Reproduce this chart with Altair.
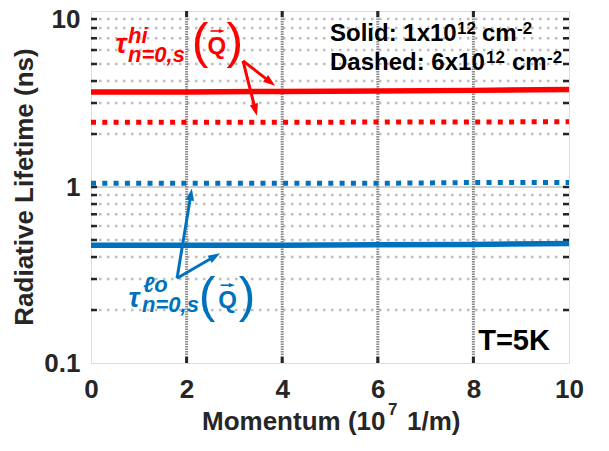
import math
import altair as alt
import pandas as pd

# ---------------- data ----------------
momentum = [0, 2, 4, 6, 8, 10]
red_solid = [3.46, 3.47, 3.49, 3.51, 3.54, 3.58]
red_dotted = [2.33, 2.33, 2.33, 2.34, 2.34, 2.35]
blue_dotted = [1.05, 1.05, 1.05, 1.05, 1.06, 1.06]
blue_solid = [0.466, 0.466, 0.467, 0.469, 0.472, 0.477]

x_ticks = [0, 2, 4, 6, 8, 10]
y_ticks = [0.1, 1, 10]
y_minor = [0.2, 0.3, 0.4, 0.5, 0.6, 0.7, 0.8, 0.9, 2, 3, 4, 5, 6, 7, 8, 9]
y_major_grid = [1]
x_grid = [2, 4, 6, 8]
y_tick_marks = [0.2, 0.3, 0.4, 0.5, 0.6, 0.7, 0.8, 0.9, 1, 2, 3, 4, 5, 6, 7, 8, 9]

# pointer arrows: (start, tips) in data units
red_arrow_start = (3.18, 5.21)
red_arrow_tips = [(3.85, 3.76), (3.47, 2.54)]
blue_arrow_start = (1.80, 0.303)
blue_arrow_tips = [(2.11, 0.98), (2.70, 0.42)]
# vector arrows over Q: (start, tip) in data units
red_vec = ((2.50, 7.70), (2.80, 7.70))
blue_vec = ((2.71, 0.2767), (3.01, 0.2767))

RED = "#ff0000"
BLUE = "#0072bd"
DARK = "#262626"
FONT = "Liberation Sans"

# annotation pieces: text, x, y, size, style, weight, color, align
annotations = [
    # red label
    ("τ", 0.628, 5.78, 27, "italic", "bold", RED, "center"),
    ("hi", 0.774, 6.59, 22, "italic", "bold", RED, "left"),
    ("n=0,s", 0.774, 5.14, 22, "italic", "bold", RED, "left"),
    ("(", 2.28, 5.38, 50, "normal", "normal", RED, "center"),
    ("Q", 2.63, 5.71, 24, "normal", "bold", RED, "center"),
    (")", 3.01, 5.38, 50, "normal", "normal", RED, "center"),
    # blue label
    ("τ", 0.90, 0.2077, 27, "italic", "bold", BLUE, "center"),
    ("ℓo", 1.088, 0.2525, 22, "italic", "bold", BLUE, "left"),
    ("n=0,s", 1.067, 0.1945, 22, "italic", "bold", BLUE, "left"),
    ("(", 2.427, 0.1958, 50, "normal", "normal", BLUE, "center"),
    ("Q", 2.856, 0.205, 24, "normal", "bold", BLUE, "center"),
    (")", 3.264, 0.1958, 50, "normal", "normal", BLUE, "center"),
    # legend text
    ("Solid: 1x10", 5.0, 6.76, 24, "normal", "bold", "black", "left"),
    ("12", 7.657, 7.41, 17, "normal", "bold", "black", "left"),
    ("cm", 8.18, 6.76, 24, "normal", "bold", "black", "left"),
    ("-2", 8.912, 7.41, 17, "normal", "bold", "black", "left"),
    ("Dashed: 6x10", 5.0, 4.63, 24, "normal", "bold", "black", "left"),
    ("12", 8.264, 5.08, 17, "normal", "bold", "black", "left"),
    ("cm", 8.808, 4.63, 24, "normal", "bold", "black", "left"),
    ("-2", 9.54, 5.08, 17, "normal", "bold", "black", "left"),
    ("T=5K", 8.10, 0.1185, 29, "normal", "bold", "black", "left"),
]

# ---------------- layout ----------------
W, H = 478, 352
PAD = {"left": 83, "top": 3, "right": 30, "bottom": 75}


def to_px(x, y):
    return x / 10 * W, H * (1 - (math.log10(y) + 1) / 2)


def to_data(px, py):
    return px / W * 10, 10 ** ((1 - py / H) * 2 - 1)


x_scale = alt.Scale(domain=[0, 10], nice=False, zero=False)
y_scale = alt.Scale(type="log", domain=[0.1, 10], nice=False)

x_axis = alt.Axis(values=x_ticks, labelFontSize=26, labelFont=FONT, labelFontWeight="bold",
                  labelColor=DARK, ticks=False, tickSize=0, domain=False, grid=False,
                  title=None, labelPadding=13, labelFlush=False, labelOverlap=False)
y_axis = alt.Axis(values=y_ticks, format="~g", labelFontSize=26, labelFont=FONT,
                  labelFontWeight="bold", labelColor=DARK, ticks=False, tickSize=0,
                  domain=False, grid=False, title=None, labelPadding=11,
                  labelFlush=False, labelOverlap=False,
                  labelOffset={"condition": {"test": "datum.value == 10", "value": 8}, "value": 0})


def X(f="x"):
    return alt.X(f"{f}:Q", scale=x_scale, axis=x_axis)


def Y(f="y"):
    return alt.Y(f"{f}:Q", scale=y_scale, axis=y_axis)


layers = []

# grid lines
layers.append(alt.Chart(pd.DataFrame({"y": y_minor})).mark_rule(
    color="#bdbdbd", strokeWidth=2.5, strokeDash=[2.5, 5.5]).encode(
    y=Y(), x=alt.value(0), x2=alt.value(W)))
layers.append(alt.Chart(pd.DataFrame({"y": y_major_grid})).mark_rule(
    color="#d0d0d0", strokeWidth=2).encode(y=Y(), x=alt.value(0), x2=alt.value(W)))
layers.append(alt.Chart(pd.DataFrame({"x": x_grid})).mark_rule(
    color="#8a8a8a", strokeWidth=3, strokeDash=[1.5, 1]).encode(
    x=X(), y=alt.value(0), y2=alt.value(H)))

# tick marks (inside)
tdf = pd.DataFrame({"y": y_tick_marks})
layers.append(alt.Chart(tdf).mark_rule(color=DARK, strokeWidth=2.5).encode(
    y=Y(), x=alt.value(0), x2=alt.value(6)))
layers.append(alt.Chart(tdf).mark_rule(color=DARK, strokeWidth=2.5).encode(
    y=Y(), x=alt.value(W - 6), x2=alt.value(W)))
xdf = pd.DataFrame({"x": x_grid})
layers.append(alt.Chart(xdf).mark_rule(color=DARK, strokeWidth=3).encode(
    x=X(), y=alt.value(H - 6), y2=alt.value(H)))
layers.append(alt.Chart(xdf).mark_rule(color=DARK, strokeWidth=3).encode(
    x=X(), y=alt.value(0), y2=alt.value(6)))

# data lines
for vals, color, dash in [(red_solid, RED, None), (red_dotted, RED, [5, 6.3]),
                          (blue_dotted, BLUE, [5, 6.3]), (blue_solid, BLUE, None)]:
    df = pd.DataFrame({"x": momentum, "y": vals})
    kw = dict(color=color, strokeWidth=5.5, strokeCap="butt", clip=True)
    if dash:
        kw["strokeDash"] = dash
        kw["strokeWidth"] = 5
    layers.append(alt.Chart(df).mark_line(**kw).encode(x=X(), y=Y()))


# arrows
def arrow_rows(pairs, head):
    shafts, heads = [], []
    for start, tip, color in pairs:
        sx, sy = to_px(*start)
        tx, ty = to_px(*tip)
        dx, dy = tx - sx, ty - sy
        L = math.hypot(dx, dy)
        ux, uy = dx / L, dy / L
        b = to_data(tx - (head - 2) * ux, ty - (head - 2) * uy)
        c = to_data(tx - head / 2 * ux, ty - head / 2 * uy)
        ang = math.degrees(math.atan2(ux, -uy)) % 360
        shafts.append({"x": start[0], "y": start[1], "x2": b[0], "y2": b[1], "c": color})
        heads.append({"x": c[0], "y": c[1], "angle": ang, "c": color})
    return pd.DataFrame(shafts), pd.DataFrame(heads)


pointer_pairs = [(red_arrow_start, t, RED) for t in red_arrow_tips] + \
                [(blue_arrow_start, t, BLUE) for t in blue_arrow_tips]
vec_pairs = [(red_vec[0], red_vec[1], RED), (blue_vec[0], blue_vec[1], BLUE)]

for pairs, head, sw in [(pointer_pairs, 12, 3), (vec_pairs, 6, 1.6)]:
    sdf, hdf = arrow_rows(pairs, head)
    layers.append(alt.Chart(sdf).mark_rule(strokeWidth=sw).encode(
        x=X(), y=Y(), x2="x2:Q", y2="y2:Q", color=alt.Color("c:N", scale=None)))
    layers.append(alt.Chart(hdf).mark_point(
        shape="M0,-1L0.7,1L-0.7,1Z", filled=True, opacity=1, size=head * head).encode(
        x=X(), y=Y(), angle=alt.Angle("angle:Q", scale=None),
        color=alt.Color("c:N", scale=None)))

# annotations
for text, x, y, size, style, weight, color, align in annotations:
    df = pd.DataFrame({"x": [x], "y": [y], "t": [text]})
    layers.append(alt.Chart(df).mark_text(
        font=FONT, fontSize=size, fontStyle=style, fontWeight=weight, color=color,
        align=align, baseline="alphabetic").encode(x=X(), y=Y(), text="t:N"))

# axis titles (outside the plot, pixel positions)
one = pd.DataFrame({"a": [0]})
for text, px, py, size in [("Momentum (10", 111, 419, 26), ("7", 297, 404, 17),
                           ("1/m)", 316, 419, 26)]:
    layers.append(alt.Chart(one).mark_text(
        font=FONT, fontSize=size, fontWeight="bold", color=DARK, align="left",
        baseline="alphabetic").encode(x=alt.value(px), y=alt.value(py), text=alt.value(text)))
layers.append(alt.Chart(one).mark_text(
    font=FONT, fontSize=26, fontWeight="bold", color=DARK, align="center",
    baseline="middle", angle=270).encode(
    x=alt.value(-66), y=alt.value(176), text=alt.value("Radiative Lifetime (ns)")))

chart = alt.layer(*layers).properties(
    width=W, height=H,
    autosize=alt.AutoSizeParams(type="none"),
    padding=PAD,
).configure_view(stroke=DARK, strokeWidth=3.5).configure(background="white")

chart.save("out.html", embed_options={"renderer": "svg", "actions": False})
